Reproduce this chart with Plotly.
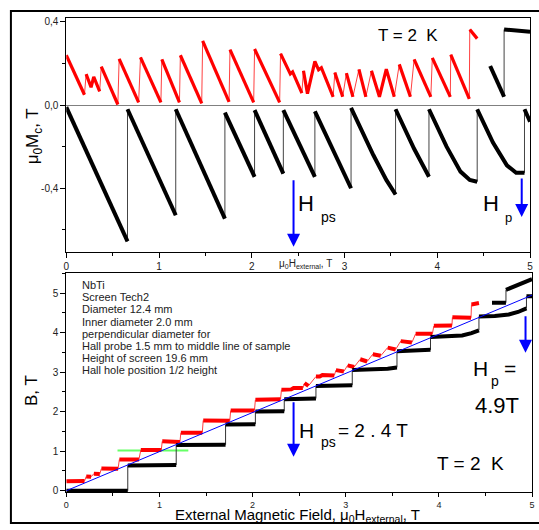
import plotly.graph_objects as go

W, H = 539, 530

# ---------------- data ----------------
# Top panel: mu0*Mc (T) vs mu0*H_external (T)
blk_H = [0.00, 0.66, 0.66, 1.18, 1.18, 1.71, 1.71, 2.03, 2.03, 2.34, 2.34, 2.68, 2.68, 3.07,
         3.07, 3.31, 3.45, 3.55, 3.55, 3.75, 3.91, 3.91, 4.10, 4.25, 4.35, 4.43, 4.43, 4.60,
         4.75, 4.85, 4.94, 4.94, 5.00, None, 4.57, 4.72, 4.72, 5.00]
blk_M = [-0.01, -0.656, -0.02, -0.53, -0.02, -0.546, -0.036, -0.345, -0.024, -0.33, -0.024,
         -0.345, -0.03, -0.40, -0.013, -0.24, -0.36, -0.43, -0.02, -0.21, -0.345, -0.02, -0.20,
         -0.32, -0.36, -0.369, -0.02, -0.18, -0.29, -0.326, -0.326, -0.02, -0.08, None,
         0.188, 0.04, 0.364, 0.353]

red_H = [0.00, 0.196, 0.214, 0.267, 0.296, 0.36, 0.377, 0.556, 0.57, 0.78, 0.80, 1.02, 1.03,
         1.22, 1.23, 1.46, 1.47, 1.755, 1.765, 2.02, 2.03, 2.30, 2.31, 2.415, 2.44, 2.54, 2.557,
         2.60, 2.68, 2.72, 2.75, 2.877, 2.895, 2.98, 3.02, 3.09, 3.155, 3.23, 3.29, 3.376, 3.45,
         3.536, 3.59, 3.71, 3.75, 3.93, 3.946, 4.14, 4.145, 4.345, 4.35, 4.43]
red_M = [0.24, 0.05, 0.149, 0.086, 0.136, 0.066, 0.185, 0.003, 0.223, 0.013, 0.23, 0.013, 0.22,
         0.013, 0.24, 0.008, 0.309, 0.016, 0.267, 0.013, 0.27, 0.013, 0.248, 0.15, 0.16, 0.058,
         0.165, 0.055, 0.21, 0.17, 0.18, 0.04, 0.157, 0.04, 0.154, 0.04, 0.172, 0.04, 0.165,
         0.04, 0.173, 0.04, 0.196, 0.04, 0.22, 0.04, 0.227, 0.04, 0.243, 0.03, 0.364, 0.32]

# Bottom panel: B (T) vs mu0*H_external (T)
blkB_H = blk_H
blkB_B = [0.0, 0.0, 0.64, 0.65, 1.16, 1.164, 1.674, 1.685, 2.006, 2.01, 2.316, 2.335, 2.65, 2.67,
          3.057, 3.07, 3.09, 3.12, 3.53, 3.54, 3.565, 3.89, 3.90, 3.93, 3.99, 4.061, 4.41, 4.42,
          4.46, 4.524, 4.614, 4.92, 4.92, None, 4.758, 4.76, 5.084, 5.353]
redB_H = red_H
redB_B = [0.24, 0.246, 0.363, 0.353, 0.432, 0.426, 0.562, 0.559, 0.793, 0.793, 1.03, 1.033,
          1.25, 1.233, 1.47, 1.468, 1.779, 1.771, 2.032, 2.033, 2.30, 2.313, 2.558, 2.565, 2.60,
          2.598, 2.722, 2.655, 2.89, 2.89, 2.93, 2.917, 3.052, 3.02, 3.174, 3.13, 3.327, 3.27,
          3.455, 3.416, 3.623, 3.576, 3.786, 3.75, 3.97, 3.97, 4.173, 4.18, 4.388, 4.375,
          4.714, 4.75]
blue_H = [0.0, 5.03]
blue_B = [0.0, 4.98]
green_H = [0.55, 1.31]
green_B = [1.02, 1.02]

info_lines = ["NbTi", "Screen Tech2", "Diameter 12.4 mm", "Inner diameter 2.0 mm",
              "perpendicular diameter for", "Hall probe 1.5 mm to middle line of sample",
              "Height of screen 19.6 mm", "Hall hole position 1/2 height"]

x_ticks = [0, 1, 2, 3, 4, 5]
top_y_ticks = [-0.4, 0.0, 0.4]
top_y_text = ["-0,4", "0,0", "0,4"]
bot_y_ticks = [0, 1, 2, 3, 4, 5]

FONT = "Arial, 'Liberation Sans', sans-serif"


def split(xs, ys):
    """Split a path into thick (sweep) and thin (flux-jump) parts."""
    tk_x, tk_y, tn_x, tn_y = [], [], [], []
    last_end = None
    for i in range(len(xs) - 1):
        x0, y0, x1, y1 = xs[i], ys[i], xs[i + 1], ys[i + 1]
        if x0 is None or x1 is None:
            last_end = None
            continue
        dx, dy = x1 - x0, y1 - y0
        jump = dy > 0 and (dx <= 1e-9 or dy / dx > 2)
        if jump:
            tn_x += [x0, x1, None]
            tn_y += [y0, y1, None]
            last_end = None
        else:
            if last_end == (x0, y0):
                tk_x.append(x1)
                tk_y.append(y1)
            else:
                tk_x += [None, x0, x1]
                tk_y += [None, y0, y1]
            last_end = (x1, y1)
    return tk_x, tk_y, tn_x, tn_y


def px(x):
    return x / W


def py(y):
    return 1 - y / H


fig = go.Figure()

def add_series(xs, ys, color, thin_color, width, xa, ya):
    tk_x, tk_y, tn_x, tn_y = split(xs, ys)
    fig.add_trace(go.Scatter(x=tn_x, y=tn_y, mode="lines", xaxis=xa, yaxis=ya,
                             line=dict(color=thin_color, width=1), hoverinfo="skip"))
    fig.add_trace(go.Scatter(x=tk_x, y=tk_y, mode="lines", xaxis=xa, yaxis=ya,
                             line=dict(color=color, width=width)))

add_series(red_H, red_M, "#ff0000", "#ff4040", 3.2, "x", "y")
add_series(blk_H, blk_M, "#000000", "#444444", 4, "x", "y")

fig.add_trace(go.Scatter(x=green_H, y=green_B, mode="lines", xaxis="x2", yaxis="y2",
                         line=dict(color="#66ff66", width=2)))
add_series(redB_H, redB_B, "#ff0000", "#ff4040", 4, "x2", "y2")
add_series(blkB_H, blkB_B, "#000000", "#333333", 4, "x2", "y2")
fig.add_trace(go.Scatter(x=blue_H, y=blue_B, mode="lines", xaxis="x2", yaxis="y2",
                         line=dict(color="#0000ff", width=1)))

axis_common = dict(showline=True, linecolor="black", linewidth=1, mirror=True,
                   showgrid=False, ticks="outside", tickcolor="black",
                   tickfont=dict(family=FONT, size=10, color="#222222"))

fig.update_layout(
    width=W, height=H,
    margin=dict(l=0, r=0, t=0, b=0),
    paper_bgcolor="white", plot_bgcolor="white",
    showlegend=False,
    xaxis=dict(axis_common, domain=[px(64), px(533)], range=[0, 5], anchor="y",
               tickvals=x_ticks, ticklen=5,
               minor=dict(ticks="outside", dtick=0.5, ticklen=3, tickcolor="black"),
               zeroline=False),
    yaxis=dict(axis_common, domain=[py(253), py(17)], range=[-0.705, 0.42], anchor="x",
               tickvals=top_y_ticks, ticktext=top_y_text, ticklen=5,
               minor=dict(ticks="outside", dtick=0.2, ticklen=3, tickcolor="black"),
               zeroline=True, zerolinecolor="#808080", zerolinewidth=1),
    xaxis2=dict(axis_common, domain=[px(64), px(535)], range=[0, 5], anchor="y2",
                tickvals=x_ticks, ticklen=4,
                tickfont=dict(family=FONT, size=9, color="#222222"),
                minor=dict(ticks="outside", dtick=0.5, ticklen=3, tickcolor="black"),
                zeroline=False),
    yaxis2=dict(axis_common, domain=[py(496), py(275)], range=[-0.04, 5.5], anchor="x2",
                tickvals=bot_y_ticks, ticklen=5,
                minor=dict(ticks="outside", dtick=0.5, ticklen=3, tickcolor="black"),
                zeroline=False),
)

# outer frame
fig.add_shape(type="rect", xref="paper", yref="paper",
              x0=px(8), x1=px(548), y0=py(527), y1=py(10),
              line=dict(color="black", width=2), fillcolor="rgba(0,0,0,0)")

ann = []

def text(x, y, s, size, anchor="center", color="black", angle=0):
    ann.append(dict(x=px(x), y=py(y), xref="paper", yref="paper", text=s, showarrow=False,
                    xanchor=anchor, yanchor="middle", textangle=angle,
                    font=dict(family=FONT, size=size, color=color)))

# axis titles
text(306, 265, "μ<sub>0</sub>H<sub>external</sub>, T", 10, color="#222222")
text(298, 519.5, "External Magnetic Field, μ<sub>0</sub>H<sub>external</sub>, T", 15)
text(31, 137, "μ<sub>0</sub>M<sub>c</sub>, T", 17, angle=-90)
text(29, 393, "B, T", 17, angle=-90)

# top panel labels
text(410, 35, "T = 2\u00a0\u00a0K", 17)
text(306, 204, "H", 22)
text(329, 218, "ps", 14)
text(493, 204, "H", 22)
text(511, 219, "p", 13)

# bottom panel labels
for i, line in enumerate(info_lines):
    text(78, 287 + i * 12.2, line, 11, anchor="left", color="#222222")
text(307, 434, "H", 21)
text(329, 445, "ps", 14)
text(374, 434, "= 2 . 4 T", 19)
text(483, 371, "H", 21)
text(498, 384, "p", 14)
text(513, 371, "=", 21)
text(500, 408, "4.9T", 22)
text(473, 467, "T = 2\u00a0\u00a0K", 19)

# blue arrows
def arrow(x, y, length, xa, ya):
    ann.append(dict(x=x, y=y, xref=xa, yref=ya, ax=0, ay=-length, axref="pixel", ayref="pixel",
                    text="", showarrow=True, arrowhead=2, arrowsize=1.3, arrowwidth=2,
                    arrowcolor="#0000ff", standoff=0))

arrow(2.45, -0.681, 68, "x", "y")
arrow(4.91, -0.538, 40, "x", "y")
arrow(2.44, 0.86, 56, "x2", "y2")
arrow(4.93, 3.49, 38, "x2", "y2")

fig.update_layout(annotations=ann)

fig.write_html("out.html")
